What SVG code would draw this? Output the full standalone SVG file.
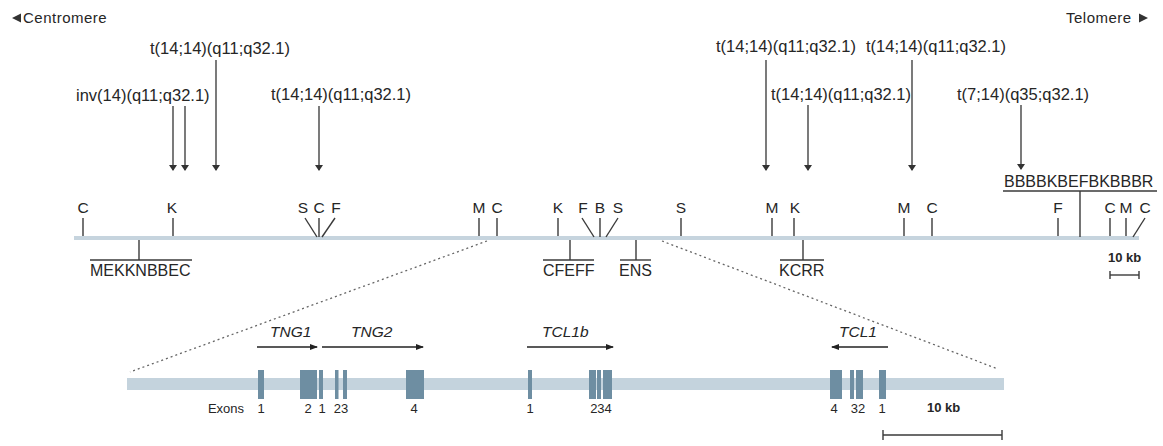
<svg xmlns="http://www.w3.org/2000/svg" width="1163" height="446" viewBox="0 0 1163 446">
  <defs>
    <marker id="ah" markerWidth="6" markerHeight="8" refX="5" refY="4" orient="auto" markerUnits="userSpaceOnUse">
      <path d="M0,0 L6,4 L0,8 Z" fill="#333"/>
    </marker>
    <marker id="ahs" markerWidth="8" markerHeight="6" refX="7" refY="3" orient="auto" markerUnits="userSpaceOnUse">
      <path d="M0,0 L8,3 L0,6 Z" fill="#222"/>
    </marker>
  </defs>
  <style>
    text { font-family: "Liberation Sans", Arial, sans-serif; fill: #262626; }
    .hdr { font-size: 15px; letter-spacing: 0.5px; }
    .tl { font-size: 16.5px; }
    .site { font-size: 15.5px; text-anchor: middle; }
    .grp { font-size: 16px; }
    .gene { font-size: 15.5px; font-style: italic; }
    .ex { font-size: 13px; text-anchor: middle; }
    .scale { font-size: 13px; font-weight: bold; }
    .tick { stroke: #3a3a3a; stroke-width: 1.4; fill: none; }
    .arr { stroke: #333; stroke-width: 1.3; fill: none; }
    .chrom { stroke: #c6d4de; stroke-width: 4; }
    .bar { fill: #c4d3dd; }
    .exon { fill: #6e8ea2; }
    .dot { stroke: #666; stroke-width: 1.3; stroke-dasharray: 2 3; fill: none; }
    .gar { stroke: #222; stroke-width: 1.3; fill: none; }
  </style>

  <!-- orientation headers -->
  <g id="centromere">
    <path d="M12,18 L21,13.5 L21,22.5 Z" fill="#333"/>
    <text class="hdr" x="23" y="23">Centromere</text>
  </g>
  <g id="telomere">
    <text class="hdr" x="1066" y="23">Telomere</text>
    <path d="M1139,13.5 L1148,18 L1139,22.5 Z" fill="#333"/>
  </g>

  <!-- breakpoint labels -->
  <g id="bp1"><text class="tl" x="150" y="54">t(14;14)(q11;q32.1)</text></g>
  <g id="bp2"><text class="tl" x="76" y="101">inv(14)(q11;q32.1)</text></g>
  <g id="bp3"><text class="tl" x="271" y="100">t(14;14)(q11;q32.1)</text></g>
  <g id="bp4"><text class="tl" x="716" y="52">t(14;14)(q11;q32.1)</text></g>
  <g id="bp5"><text class="tl" x="866" y="52">t(14;14)(q11;q32.1)</text></g>
  <g id="bp6"><text class="tl" x="771" y="100">t(14;14)(q11;q32.1)</text></g>
  <g id="bp7"><text class="tl" x="957" y="100">t(7;14)(q35;q32.1)</text></g>

  <!-- chromosome map -->
  <g id="chromosome">
    <line class="chrom" x1="74" y1="238" x2="1139" y2="238"/>
  </g>

  <!-- restriction sites above the map -->
  <g id="sites">
    <text class="site" x="83" y="213">C</text>
    <line class="tick" x1="83" y1="218" x2="83" y2="236"/>
    <text class="site" x="172" y="213">K</text>
    <line class="tick" x1="173" y1="218" x2="173" y2="236"/>
    <text class="site" x="303" y="213">S</text>
    <line class="tick" x1="305" y1="218" x2="317" y2="237"/>
    <text class="site" x="319" y="213">C</text>
    <line class="tick" x1="319" y1="218" x2="319" y2="237"/>
    <text class="site" x="336" y="213">F</text>
    <line class="tick" x1="335" y1="218" x2="322" y2="237"/>
    <text class="site" x="479" y="213">M</text>
    <line class="tick" x1="479" y1="218" x2="479" y2="236"/>
    <text class="site" x="497" y="213">C</text>
    <line class="tick" x1="497" y1="218" x2="497" y2="236"/>
    <text class="site" x="558" y="213">K</text>
    <line class="tick" x1="558" y1="218" x2="558" y2="236"/>
    <text class="site" x="583" y="213">F</text>
    <line class="tick" x1="582" y1="218" x2="594" y2="237"/>
    <text class="site" x="600" y="213">B</text>
    <line class="tick" x1="600" y1="218" x2="600" y2="237"/>
    <text class="site" x="618" y="213">S</text>
    <line class="tick" x1="618" y1="218" x2="606" y2="237"/>
    <text class="site" x="681" y="213">S</text>
    <line class="tick" x1="681" y1="218" x2="681" y2="236"/>
    <text class="site" x="772" y="213">M</text>
    <line class="tick" x1="772" y1="218" x2="772" y2="236"/>
    <text class="site" x="795" y="213">K</text>
    <line class="tick" x1="794" y1="218" x2="794" y2="236"/>
    <text class="site" x="904" y="213">M</text>
    <line class="tick" x1="904" y1="218" x2="904" y2="236"/>
    <text class="site" x="932" y="213">C</text>
    <line class="tick" x1="932" y1="218" x2="932" y2="236"/>
    <text class="site" x="1058" y="213">F</text>
    <line class="tick" x1="1058" y1="218" x2="1058" y2="236"/>
    <text class="site" x="1110" y="213">C</text>
    <line class="tick" x1="1110" y1="218" x2="1110" y2="236"/>
    <text class="site" x="1126" y="213">M</text>
    <line class="tick" x1="1126" y1="218" x2="1126" y2="236"/>
    <text class="site" x="1145" y="213">C</text>
    <line class="tick" x1="1145" y1="218" x2="1133" y2="237"/>
  </g>

  <!-- site clusters -->
  <g id="cluster-mekknbbec">
    <line class="tick" x1="139" y1="240" x2="139" y2="260"/>
    <line class="tick" x1="90" y1="260" x2="192" y2="260"/>
    <text class="grp" x="90" y="276">MEKKNBBEC</text>
  </g>
  <g id="cluster-cfeff">
    <line class="tick" x1="570" y1="240" x2="570" y2="260"/>
    <line class="tick" x1="543" y1="260" x2="594" y2="260"/>
    <text class="grp" x="543" y="276">CFEFF</text>
  </g>
  <g id="cluster-ens">
    <line class="tick" x1="636" y1="240" x2="636" y2="260"/>
    <line class="tick" x1="620" y1="260" x2="651" y2="260"/>
    <text class="grp" x="619" y="276">ENS</text>
  </g>
  <g id="cluster-kcrr">
    <line class="tick" x1="803" y1="240" x2="803" y2="260"/>
    <line class="tick" x1="780" y1="260" x2="824" y2="260"/>
    <text class="grp" x="779" y="276">KCRR</text>
  </g>
  <g id="cluster-bbbbkbefbkbbbr">
    <text class="grp" x="1004" y="187">BBBBKBEFBKBBBR</text>
    <line class="tick" x1="1003" y1="191" x2="1157" y2="191"/>
    <line class="tick" x1="1080" y1="191" x2="1080" y2="237"/>
  </g>

  <!-- upper scale bar -->
  <g id="scale-top">
    <text class="scale" x="1108" y="262">10 kb</text>
    <line class="tick" x1="1110" y1="275" x2="1139" y2="275"/>
    <line class="tick" x1="1110" y1="271" x2="1110" y2="279"/>
    <line class="tick" x1="1139" y1="271" x2="1139" y2="279"/>
  </g>

  <!-- expanded region -->
  <g id="detail-bar">
    <rect class="bar" x="127" y="378" width="877" height="12"/>
  </g>
  <g id="exons">
    <rect class="exon" x="258" y="370" width="6" height="29"/>
    <rect class="exon" x="300" y="370" width="17" height="29"/>
    <rect class="exon" x="319" y="370" width="4" height="29"/>
    <rect class="exon" x="335" y="370" width="3.5" height="29"/>
    <rect class="exon" x="343" y="370" width="4" height="29"/>
    <rect class="exon" x="406" y="370" width="18" height="29"/>
    <rect class="exon" x="528" y="370" width="4" height="29"/>
    <rect class="exon" x="589" y="370" width="7" height="29"/>
    <rect class="exon" x="597" y="370" width="4" height="29"/>
    <rect class="exon" x="603" y="370" width="9" height="29"/>
    <rect class="exon" x="830" y="370" width="12" height="29"/>
    <rect class="exon" x="850" y="370" width="4" height="29"/>
    <rect class="exon" x="856" y="370" width="7" height="29"/>
    <rect class="exon" x="879" y="370" width="7" height="29"/>
  </g>
  <g id="exon-labels">
    <text class="ex" x="226" y="413">Exons</text>
    <text class="ex" x="261" y="413">1</text>
    <text class="ex" x="308" y="413">2</text>
    <text class="ex" x="322" y="413">1</text>
    <text class="ex" x="341" y="413">23</text>
    <text class="ex" x="414" y="413">4</text>
    <text class="ex" x="530" y="413">1</text>
    <text class="ex" x="601" y="413">234</text>
    <text class="ex" x="834" y="413">4</text>
    <text class="ex" x="858" y="413">32</text>
    <text class="ex" x="882" y="413">1</text>
  </g>

  <!-- genes -->
  <g id="gene-tng1">
    <text class="gene" x="270" y="337">TNG1</text>
    <line class="gar" x1="257" y1="347" x2="317" y2="347" marker-end="url(#ahs)"/>
  </g>
  <g id="gene-tng2">
    <text class="gene" x="351" y="337">TNG2</text>
    <line class="gar" x1="322" y1="347" x2="423" y2="347" marker-end="url(#ahs)"/>
  </g>
  <g id="gene-tcl1b">
    <text class="gene" x="542" y="337">TCL1b</text>
    <line class="gar" x1="527" y1="347" x2="613" y2="347" marker-end="url(#ahs)"/>
  </g>
  <g id="gene-tcl1">
    <text class="gene" x="839" y="337">TCL1</text>
    <line class="gar" x1="888" y1="347" x2="832" y2="347" marker-end="url(#ahs)"/>
  </g>

  <!-- lower scale bar -->
  <g id="scale-bottom">
    <text class="scale" x="927" y="412">10 kb</text>
    <line class="tick" x1="883" y1="435" x2="1002" y2="435"/>
    <line class="tick" x1="883" y1="430" x2="883" y2="440"/>
    <line class="tick" x1="1002" y1="430" x2="1002" y2="440"/>
  </g>

  <!-- connectors -->
  <g id="connectors">
    <line class="arr" x1="173" y1="106" x2="173" y2="170" marker-end="url(#ah)"/>
    <line class="arr" x1="185" y1="106" x2="185" y2="170" marker-end="url(#ah)"/>
    <line class="arr" x1="216" y1="60" x2="216" y2="170" marker-end="url(#ah)"/>
    <line class="arr" x1="319" y1="106" x2="319" y2="170" marker-end="url(#ah)"/>
    <line class="arr" x1="766" y1="60" x2="766" y2="170" marker-end="url(#ah)"/>
    <line class="arr" x1="808" y1="105" x2="808" y2="170" marker-end="url(#ah)"/>
    <line class="arr" x1="912" y1="60" x2="912" y2="170" marker-end="url(#ah)"/>
    <line class="arr" x1="1021" y1="105" x2="1021" y2="169" marker-end="url(#ah)"/>
    <line class="dot" x1="487" y1="241" x2="130" y2="372"/>
    <line class="dot" x1="662" y1="241" x2="998" y2="369"/>
  </g>
</svg>
